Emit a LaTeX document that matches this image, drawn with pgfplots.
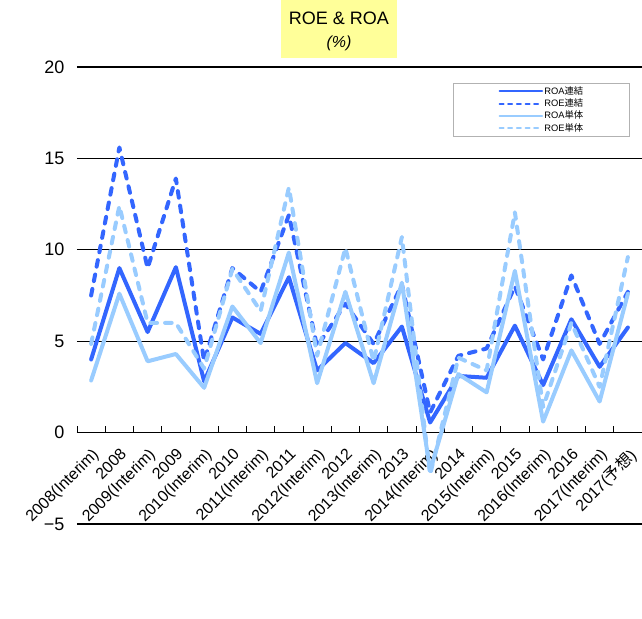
\documentclass[border=0pt]{standalone}
\usepackage{pgfplots}
\usepackage{pgfplotstable}
\pgfplotsset{compat=1.18}
\usepackage{fontspec}
\setmainfont{Liberation Sans}
\newfontfamily\cjk{Noto Sans CJK JP}
\definecolor{darkblue}{RGB}{51,102,255}
\definecolor{lightblue}{RGB}{153,204,255}
\definecolor{titleyellow}{RGB}{255,255,153}

% columns: ROA consolidated, ROE consolidated, ROA parent, ROE parent
\pgfplotstableread{
x  A1    E1    A2    E2
0  4.0   7.5   2.85  4.85
1  9.0   15.6  7.6   12.4
2  5.5   9.0   3.9   6.0
3  9.05  13.9  4.3   6.0
4  2.8   3.9   2.45  3.5
5  6.3   9.0   6.9   8.95
6  5.4   7.7   4.9   6.65
7  8.5   11.9  9.85  13.4
8  3.4   4.7   2.7   4.2
9  4.9   7.05  7.7   10.1
10 3.8   4.85  2.7   3.9
11 5.8   8.1   8.2   10.7
12 0.55  1.1   -2.1  -2.3
13 3.1   4.2   3.2   4.1
14 3.0   4.6   2.2   3.4
15 5.85  8.0   8.85  12.05
16 2.6   4.0   0.6   1.4
17 6.2   8.6   4.5   6.0
18 3.6   4.85  1.7   2.5
19 5.75  7.7   7.6   9.6
}\roadata

\begin{document}
\begin{tikzpicture}
\useasboundingbox (0,0) rectangle (481.5pt,463.5pt);
\node[fill=titleyellow, minimum width=87pt, minimum height=43.5pt, inner sep=0pt] at (254.25pt,441.75pt) {};
\node[font=\fontsize{13.5}{16}\selectfont] at (254.25pt,450pt) {ROE \& ROA};
\node[font=\fontsize{12}{14}\selectfont\itshape] at (254.25pt,431pt) {(\%)};

\begin{axis}[
    at={(57.75pt,70.5pt)}, anchor=south west,
    scale only axis,
    width=423.75pt, height=342.75pt,
    xmin=-0.5, xmax=19.5,
    ymin=-5, ymax=20,
    axis x line=middle,
    axis y line=left,
    axis line style={-, black, line width=1pt},
    y axis line style={draw=none},
    hide obscured x ticks=false,
    hide obscured y ticks=false,
    ytick={-5,0,5,10,15,20},
    yticklabels={−5,0,5,10,15,20},
    yticklabel style={font=\fontsize{13.5}{16}\selectfont},
    yticklabel shift=6pt,
    xtick={0,...,19},
    xticklabels={2008(Interim),2008,2009(Interim),2009,2010(Interim),2010,2011(Interim),2011,2012(Interim),2012,2013(Interim),2013,2014(Interim),2014,2015(Interim),2015,2016(Interim),2016,2017(Interim),2017({\cjk 予想})},
    xticklabel style={font=\fontsize{12}{14}\selectfont, rotate=45, anchor=north east},
    xticklabel shift=6pt,
    minor xtick={-0.5,0.5,...,19.5},
    major tick length=0pt,
    minor tick length=5pt,
    xtick align=inside,
    minor x tick style={black, line width=0.6pt},
    ymajorgrids=true,
    grid style={black, line width=1pt},
    legend cell align=left,
    legend style={at={(0.979,0.965)}, anchor=north east,
        draw=gray!60, line width=0.5pt, fill=white,
        font=\fontsize{7}{8}\selectfont,
        inner xsep=34pt, inner ysep=1.5pt, row sep=0pt,
        nodes={inner sep=0.9pt}},
    legend image code/.code={\draw[#1] (0pt,0pt) -- (32pt,0pt);},
    every axis plot/.append style={line width=3pt, line join=round, line cap=round},
]
\addplot[darkblue, legend image post style={line width=1.5pt}] table[x=x, y=A1] {\roadata};
\addlegendentry{ROA{\cjk 連結}}
\addplot[darkblue, dash pattern=on 5pt off 6pt, legend image post style={line width=1.5pt, dash pattern=on 3pt off 3.5pt}] table[x=x, y=E1] {\roadata};
\addlegendentry{ROE{\cjk 連結}}
\addplot[lightblue, legend image post style={line width=1.5pt}] table[x=x, y=A2] {\roadata};
\addlegendentry{ROA{\cjk 単体}}
\addplot[lightblue, dash pattern=on 5pt off 6pt, legend image post style={line width=1.5pt, dash pattern=on 3pt off 3.5pt}] table[x=x, y=E2] {\roadata};
\addlegendentry{ROE{\cjk 単体}}
\end{axis}
\end{tikzpicture}
\end{document}
